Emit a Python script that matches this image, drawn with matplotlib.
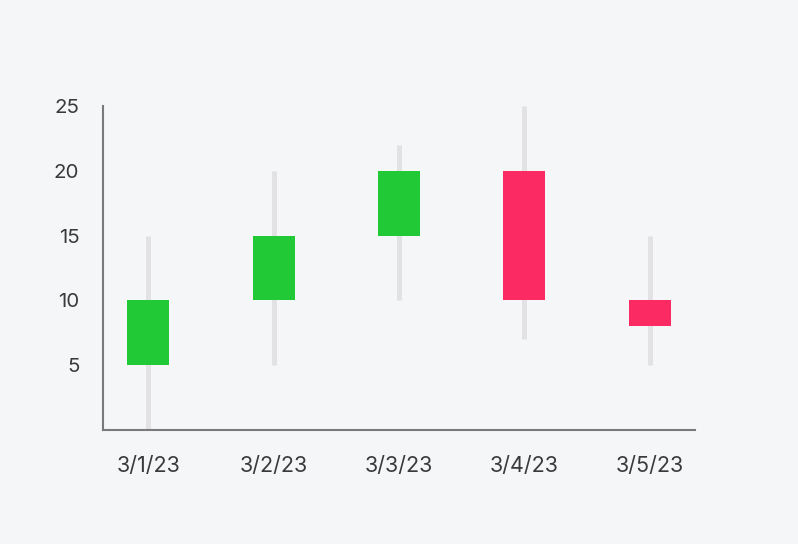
import matplotlib
matplotlib.use("Agg")
import matplotlib.pyplot as plt
import numpy as np

dates = ["3/1/23", "3/2/23", "3/3/23", "3/4/23", "3/5/23"]
opens = [5, 10, 15, 20, 10]
closes = [10, 15, 20, 10, 8]
lows = [0, 5, 10, 7, 5]
highs = [15, 20, 22, 25, 15]
yticks = [5, 10, 15, 20, 25]

UP, DOWN = "#20c935", "#fb2a63"
BG = "#f5f6f8"
plt.rcParams["font.family"] = ["Inter", "DejaVu Sans"]

fig = plt.figure(figsize=(7.98, 5.44), dpi=100, facecolor=BG)
ax = fig.add_axes([103 / 798, 114 / 544, 592 / 798, 324 / 544])
ax.set_facecolor(BG)

x = np.arange(len(dates))
ax.vlines(x, lows, highs, color="#e2e2e4", lw=3.6, zorder=1)
cols = [UP if c >= o else DOWN for o, c in zip(opens, closes)]
bott = [min(o, c) for o, c in zip(opens, closes)]
hgt = [abs(c - o) for o, c in zip(opens, closes)]
ax.bar(x, hgt, bottom=bott, width=0.335, color=cols, zorder=2)

ax.set_xlim(-0.36, len(dates) - 1 + 0.36)
ax.set_ylim(0, 25)
ax.set_xticks(x, dates)
ax.set_yticks(yticks)
ax.tick_params(length=0, colors="#3a3a3a")
ax.tick_params(axis="x", labelsize=15.5, pad=18.5)
ax.tick_params(axis="y", labelsize=14.8, pad=17)
for s in ["top", "right"]:
    ax.spines[s].set_visible(False)
for s in ["left", "bottom"]:
    ax.spines[s].set_color("#7a7a7a")
    ax.spines[s].set_linewidth(1.5)

fig.savefig("out.png", dpi=100, facecolor=BG)
